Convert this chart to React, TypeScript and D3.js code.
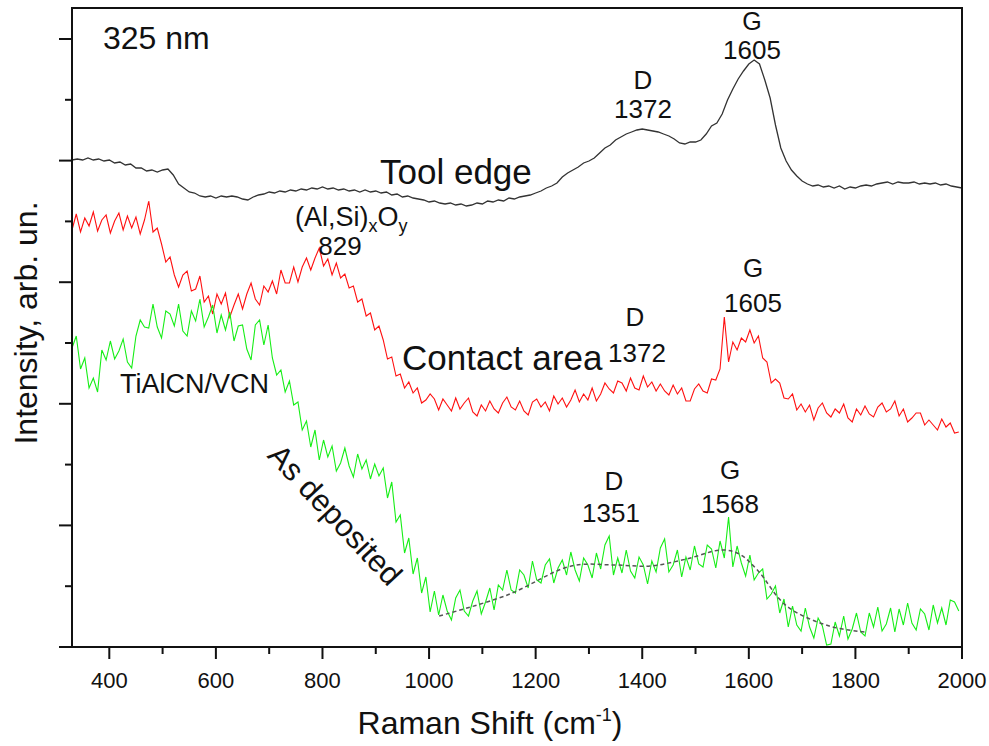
import React, { useEffect, useRef } from "react";
import * as d3 from "d3";

// Raman spectra, intensity in arbitrary counts (0 = bottom axis)
const X_START = 330;
const toolEdgeStep = 10;
const toolEdge = [
  487, 488, 487, 489, 487, 488, 486, 487, 484, 485, 482, 483, 479, 479, 476, 477, 475, 477, 478, 472,
  463, 459, 455, 454, 451, 450, 451, 449, 451, 450, 451, 450, 448, 447, 450, 452, 453, 455, 454, 456,
  455, 457, 456, 458, 457, 459, 458, 460, 458, 459, 457, 458, 456, 457, 455, 457, 455, 456, 454, 455,
  452, 453, 450, 451, 449, 448, 447, 445, 446, 444, 443, 444, 442, 443, 441, 442, 444, 443, 446, 445,
  447, 446, 449, 448, 450, 451, 452, 454, 456, 459, 461, 464, 470, 474, 477, 480, 484, 486, 489, 494,
  499, 502, 507, 510, 513, 515, 517, 518, 517, 516, 515, 513, 511, 508, 504, 503, 505, 505, 507, 513,
  521, 524, 533, 547, 558, 568, 576, 583, 587, 583, 567, 549, 522, 499, 486, 477, 471, 466, 463, 461,
  462, 460, 461, 459, 461, 458, 460, 459, 461, 462, 461, 463, 464, 465, 463, 465, 464, 464, 465, 463,
  464, 463, 464, 462, 463, 461, 460, 459,
];

const contactStep = 8;
const contactArea = [
  417, 433, 415, 429, 421, 435, 416, 427, 432, 414, 426, 434, 417, 431, 419, 430, 413, 427, 446, 415,
  419, 403, 385, 390, 372, 360, 372, 376, 356, 358, 371, 345, 351, 333, 353, 343, 354, 330, 342, 353,
  338, 353, 364, 348, 342, 361, 355, 366, 353, 377, 364, 364, 380, 365, 380, 389, 377, 389, 399, 381,
  388, 372, 384, 369, 373, 359, 361, 345, 348, 331, 334, 317, 321, 307, 288, 290, 271, 273, 259, 265,
  254, 259, 244, 247, 253, 248, 237, 248, 242, 236, 249, 238, 244, 249, 235, 231, 242, 236, 246, 238,
  234, 244, 250, 240, 237, 246, 236, 232, 245, 248, 240, 245, 236, 251, 243, 249, 240, 247, 257, 245,
  253, 247, 259, 246, 253, 264, 258, 254, 266, 264, 256, 269, 259, 257, 271, 260, 265, 256, 263, 256,
  252, 262, 253, 259, 246, 246, 258, 263, 256, 254, 268, 267, 278, 330, 285, 305, 297, 309, 305, 317,
  304, 311, 289, 285, 264, 268, 264, 249, 248, 253, 237, 243, 235, 242, 227, 239, 244, 234, 230, 238,
  234, 243, 229, 225, 238, 232, 241, 233, 230, 240, 244, 235, 238, 246, 231, 238, 225, 229, 234, 234,
  222, 227, 222, 217, 228, 220, 224, 214, 215,
];

const asDepStep = 8;
const asDeposited = [
  299, 311, 278, 289, 259, 269, 255, 297, 287, 306, 288, 296, 308, 285, 279, 311, 327, 320, 319, 343,
  320, 309, 336, 333, 321, 343, 316, 311, 336, 326, 348, 320, 330, 342, 314, 332, 317, 335, 306, 321,
  322, 298, 287, 322, 327, 302, 322, 289, 272, 277, 255, 266, 242, 245, 217, 226, 200, 217, 187, 207,
  190, 201, 176, 184, 199, 181, 170, 193, 178, 187, 168, 183, 171, 179, 149, 165, 125, 132, 94, 109,
  73, 89, 54, 70, 35, 56, 32, 52, 36, 27, 49, 57, 36, 31, 46, 56, 33, 45, 59, 37,
  62, 57, 77, 57, 54, 77, 72, 59, 86, 67, 64, 82, 88, 64, 79, 87, 72, 95, 77, 66,
  89, 82, 69, 94, 78, 102, 111, 72, 89, 74, 97, 76, 69, 90, 82, 63, 86, 75, 99, 108,
  75, 82, 97, 70, 90, 77, 101, 83, 80, 102, 98, 79, 106, 89, 130, 80, 101, 84, 71, 92,
  67, 74, 78, 48, 53, 61, 34, 48, 20, 41, 22, 16, 39, 20, 9, 29, 21, 2, 3, 25,
  11, 31, 8, 18, 34, 15, 11, 34, 20, 40, 16, 23, 39, 15, 38, 22, 44, 24, 17, 38,
  33, 17, 42, 24, 39, 22, 47, 45, 36,
];

// dashed background fit under the as-deposited spectrum
const fitX = [1019, 1147, 1267, 1348, 1415, 1483, 1549, 1582, 1616, 1671, 1751, 1817];
const fitY = [31, 52, 81, 82, 81, 88, 97, 93, 77, 41, 21, 15];

const xTicks = [400, 600, 800, 1000, 1200, 1400, 1600, 1800, 2000];
const xMinorTicks = [500, 700, 900, 1100, 1300, 1500, 1700, 1900];

const FONT = "Arial, 'Liberation Sans', Helvetica, sans-serif";

export default function App() {
  const ref = useRef<SVGSVGElement>(null);

  useEffect(() => {
    const svg = d3.select(ref.current);
    svg.selectAll("*").remove();

    const left = 72, top = 8, right = 962, bottom = 647;
    const x = d3.scaleLinear().domain([330, 2000]).range([left, right]);
    const y = d3.scaleLinear().domain([0, 639]).range([bottom, top]);

    svg.append("defs").append("clipPath").attr("id", "plotclip")
      .append("rect").attr("x", left).attr("y", top)
      .attr("width", right - left).attr("height", bottom - top);

    const line = d3.line<[number, number]>().x(d => x(d[0])).y(d => y(d[1]));
    const toPts = (arr: number[], step: number) =>
      arr.map((v, i) => [X_START + i * step, v] as [number, number]);

    const plot = svg.append("g").attr("clip-path", "url(#plotclip)");

    plot.append("path").datum(toPts(toolEdge, toolEdgeStep))
      .attr("d", line).attr("fill", "none")
      .attr("stroke", "#333").attr("stroke-width", 1.3);

    plot.append("path").datum(toPts(contactArea, contactStep))
      .attr("d", line).attr("fill", "none")
      .attr("stroke", "#ff1010").attr("stroke-width", 1.1);

    plot.append("path").datum(toPts(asDeposited, asDepStep))
      .attr("d", line).attr("fill", "none")
      .attr("stroke", "#16ee16").attr("stroke-width", 1.1);

    // fit line
    const fitLine = d3.line<number>().x((d, i) => x(fitX[i])).y(d => y(d)).curve(d3.curveCatmullRom);
    plot.append("path").datum(fitY)
      .attr("d", fitLine).attr("fill", "none")
      .attr("stroke", "#555").attr("stroke-width", 1.5)
      .attr("stroke-dasharray", "4,3");

    // frame
    svg.append("rect").attr("x", left).attr("y", top)
      .attr("width", right - left).attr("height", bottom - top)
      .attr("fill", "none").attr("stroke", "#111").attr("stroke-width", 2);

    // x ticks
    const ax = svg.append("g").attr("stroke", "#111").attr("stroke-width", 2);
    ax.selectAll(".xmaj").data(xTicks).join("line").attr("class", "xmaj")
      .attr("x1", d => x(d)).attr("x2", d => x(d))
      .attr("y1", bottom).attr("y2", bottom + 12);
    ax.selectAll(".xmin").data(xMinorTicks).join("line").attr("class", "xmin")
      .attr("x1", d => x(d)).attr("x2", d => x(d))
      .attr("y1", bottom).attr("y2", bottom + 7);

    // y ticks (no labels)
    const yTicks = d3.range(0, 639, 60.8);
    ax.selectAll(".ytk").data(yTicks).join("line").attr("class", "ytk")
      .attr("x1", (d, i) => left - (i % 2 === 0 ? 13 : 7)).attr("x2", left)
      .attr("y1", d => y(d)).attr("y2", d => y(d));

    svg.selectAll(".xlab").data(xTicks).join("text").attr("class", "xlab")
      .attr("x", d => x(d)).attr("y", 688)
      .attr("text-anchor", "middle").attr("font-family", FONT)
      .attr("font-size", 22).attr("fill", "#111")
      .text(d => d);

    // axis titles
    const xt = svg.append("text").attr("x", 490).attr("y", 734)
      .attr("text-anchor", "middle").attr("font-family", FONT)
      .attr("font-size", 32).attr("fill", "#111");
    xt.append("tspan").text("Raman Shift (cm");
    xt.append("tspan").attr("dy", -13).attr("font-size", 18).text("-1");
    xt.append("tspan").attr("dy", 13).text(")");

    svg.append("text").attr("transform", "translate(37,323) rotate(-90)")
      .attr("text-anchor", "middle").attr("font-family", FONT)
      .attr("font-size", 32).attr("fill", "#111")
      .text("Intensity, arb. un.");

    // annotations
    const label = (txt: string, px: number, py: number, size: number, anchor = "middle") =>
      svg.append("text").attr("x", px).attr("y", py)
        .attr("text-anchor", anchor).attr("font-family", FONT)
        .attr("font-size", size).attr("fill", "#111").text(txt);

    label("325 nm", 103, 49, 32, "start");
    label("G", 752, 30, 25);
    label("1605", 752, 59, 26);
    label("D", 643, 89, 26);
    label("1372", 643, 118, 26);
    label("Tool edge", 380, 184, 35, "start");

    const ox = svg.append("text").attr("x", 295).attr("y", 226)
      .attr("font-family", FONT).attr("font-size", 27).attr("fill", "#111");
    ox.append("tspan").text("(Al,Si)");
    ox.append("tspan").attr("dy", 6).attr("font-size", 18).text("x");
    ox.append("tspan").attr("dy", -6).text("O");
    ox.append("tspan").attr("dy", 6).attr("font-size", 18).text("y");
    label("829", 340, 255, 26);

    label("Contact area", 402, 370, 35, "start");
    label("D", 635, 326, 26);
    label("1372", 637, 362, 26);
    label("G", 753, 277, 26);
    label("1605", 753, 312, 26);

    label("TiAlCN/VCN", 120, 393, 27, "start");
    svg.append("text").attr("transform", "translate(335,515) rotate(47)")
      .attr("text-anchor", "middle").attr("dominant-baseline", "central")
      .attr("font-family", FONT).attr("font-size", 31).attr("fill", "#111")
      .text("As deposited");

    label("D", 614, 490, 26);
    label("1351", 611, 522, 26);
    label("G", 730, 479, 26);
    label("1568", 730, 513, 26);
  }, []);

  return (
    <svg ref={ref} width={989} height={746}
      style={{ position: "absolute", left: 0, top: 0, background: "#fff" }} />
  );
}
